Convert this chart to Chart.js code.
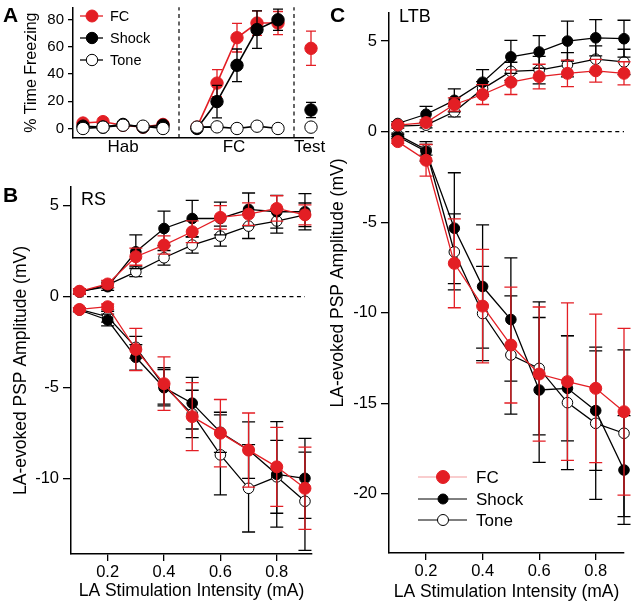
<!DOCTYPE html>
<html>
<head>
<meta charset="utf-8">
<script src="https://cdn.jsdelivr.net/npm/chart.js@4.4.1/dist/chart.umd.min.js"></script>
<style>
  html, body { margin: 0; padding: 0; background: #fff; }
  #wrap { position: relative; width: 632px; height: 604px; overflow: hidden; }
  canvas { position: absolute; }
</style>
</head>
<body>
<div id="wrap">
  <canvas id="chartB" width="320" height="444" style="left:0;top:160px"></canvas>
  <canvas id="chartA" width="330" height="166" style="left:0;top:0"></canvas>
  <canvas id="chartC" width="312" height="604" style="left:320px;top:0"></canvas>
</div>
<script>
// ---- panel A : freezing ----
var habX = [0, 1, 2, 3, 4];
var condX = [5.7, 6.7, 7.7, 8.7, 9.75];
var testX = [11.4];
var phaseDividers = [4.8, 10.55];
var phaseTickX = [2, 7.55, 11.33];
var phaseLabels = ['Hab', 'FC', 'Test'];
var freezeTicks = [0, 20, 40, 60, 80];

var habFC = [4, 5, 2.4, 1, 3];
var habFCErr = [1, 1, 0.8, 0.8, 1];
var habShock = [1.7, 1, 3, 1, 2.4];
var habShockErr = [1, 0.8, 1, 0.8, 1];
var habTone = [0, 1, 2.4, 1.7, 0];
var habToneErr = [0.5, 0.5, 0.5, 0.5, 0.5];

var condFC = [1, 33.4, 66.8, 77.6, 77.6];
var condFCErr = [0.5, 10, 10.5, 9, 8.5];
var condShock = [0, 19.8, 46.5, 72.8, 80];
var condShockErr = [0.5, 12, 12, 13.8, 7.8];
var condTone = [1, 1.2, 0, 1.7, 0];
var condToneErr = [0.5, 0.5, 0.5, 0.5, 0.5];

var testFC = [59];
var testFCErr = [12.6];
var testShock = [13.6];
var testShockErr = [5.6];
var testTone = [1];
var testToneErr = [0.5];

// ---- panels B and C : PSP amplitude ----
var intensity = [0.1, 0.2, 0.3, 0.4, 0.5, 0.6, 0.7, 0.8, 0.9];
var intensityTicks = [0.2, 0.4, 0.6, 0.8];
var rsTicks = [5, 0, -5, -10];
var ltbTicks = [5, 0, -5, -10, -15, -20];

var rsFCUp = [0.3, 0.7, 2.2, 2.84, 3.57, 4.36, 4.54, 4.85, 4.5];
var rsFCUpErr = [0.15, 0.2, 0.47, 0.5, 0.6, 0.65, 0.62, 0.7, 0.55];
var rsShockUp = [0.3, 0.55, 2.47, 3.75, 4.3, 4.3, 4.8, 4.67, 4.67];
var rsShockUpErr = [0.15, 0.2, 0.93, 0.95, 1.0, 0.9, 0.9, 0.9, 1.0];
var rsToneUp = [0.25, 0.65, 1.37, 2.14, 2.84, 3.33, 3.88, 4.16, 4.5];
var rsToneUpErr = [0.1, 0.15, 0.27, 0.4, 0.44, 0.55, 0.68, 0.66, 0.65];

var rsFCDown = [-0.7, -0.55, -2.9, -4.78, -6.59, -7.5, -8.43, -9.35, -10.53];
var rsFCDownErr = [0.1, 0.15, 1.16, 1.47, 1.87, 1.85, 2.04, 2.17, 2.26];
var rsShockDown = [-0.73, -1.28, -3.33, -5.0, -5.85, -7.45, -8.43, -9.76, -9.98];
var rsShockDownErr = [0.1, 0.32, 0.7, 1.0, 1.42, 1.1, 1.55, 2.9, 2.2];
var rsToneDown = [-0.7, -1.1, -2.78, -4.9, -6.44, -8.69, -10.53, -9.9, -11.24];
var rsToneDownErr = [0.1, 0.3, 0.6, 1.0, 1.3, 2.2, 2.4, 2.0, 2.7];

var ltbFCUp = [0.36, 0.5, 1.5, 2.05, 2.73, 3.04, 3.22, 3.36, 3.22];
var ltbFCUpErr = [0.1, 0.15, 0.37, 0.55, 0.68, 0.68, 0.73, 0.63, 0.64];
var ltbShockUp = [0.45, 0.96, 1.73, 2.73, 4.13, 4.4, 5.0, 5.18, 5.13];
var ltbShockUpErr = [0.1, 0.44, 0.63, 0.69, 0.91, 0.9, 1.1, 1.0, 1.02];
var ltbToneUp = [0.3, 0.36, 1.1, 2.36, 3.33, 3.4, 3.69, 4.0, 3.85];
var ltbToneUpErr = [0.1, 0.15, 0.28, 0.4, 0.5, 0.76, 0.67, 0.73, 0.7];

var ltbFCDown = [-0.55, -1.58, -7.27, -9.63, -11.78, -13.38, -13.8, -14.17, -15.46];
var ltbFCDownErr = [0.1, 0.87, 2.45, 3.13, 3.2, 3.7, 4.35, 4.1, 4.6];
var ltbShockDown = [-0.27, -1.09, -5.33, -8.55, -10.37, -14.26, -14.17, -15.4, -18.68];
var ltbShockDownErr = [0.1, 0.54, 3.06, 3.4, 3.4, 4.0, 2.9, 3.3, 3.0];
var ltbToneDown = [-0.18, -1.0, -6.64, -10.04, -12.33, -13.07, -14.96, -16.1, -16.65];
var ltbToneDownErr = [0.1, 0.3, 2.1, 2.6, 3.26, 3.67, 3.7, 4.2, 4.6];

var zeroLineX = [0.1, 0.9];

var RED = '#e31e24';
Chart.defaults.font.family = '"Liberation Sans", Arial, Helvetica, sans-serif';
Chart.defaults.color = '#000';

// error bars drawn just before each dataset so its own markers sit on top
var errorBars = {
    id: 'errorBars',
    beforeDatasetDraw: function (chart, args) {
        var ds = chart.data.datasets[args.index];
        if (!ds.errors) return;
        var meta = args.meta;
        var yScale = chart.scales[meta.yAxisID];
        var ctx = chart.ctx;
        var cap = ds.capHalf || 6;
        ctx.save();
        ctx.strokeStyle = ds.errorColor || ds.borderColor;
        ctx.lineWidth = ds.errorWidth || 1.3;
        for (var i = 0; i < ds.data.length; i++) {
            var v = ds.data[i].y, e = ds.errors[i];
            if (v === null || e === null || e === undefined) continue;
            var x = meta.data[i].x;
            var yt = yScale.getPixelForValue(v + e);
            var yb = yScale.getPixelForValue(v - e);
            ctx.beginPath();
            ctx.moveTo(x, yt); ctx.lineTo(x, yb);
            ctx.moveTo(x - cap, yt); ctx.lineTo(x + cap, yt);
            ctx.moveTo(x - cap, yb); ctx.lineTo(x + cap, yb);
            ctx.stroke();
        }
        ctx.restore();
    }
};

function makeNotes(items) {
    return {
        id: 'notes',
        afterDraw: function (chart) {
            var ctx = chart.ctx;
            ctx.save();
            ctx.fillStyle = '#000';
            ctx.textBaseline = 'alphabetic';
            items.forEach(function (it) {
                ctx.font = (it.bold ? 'bold ' : '') + it.size + 'px ' + Chart.defaults.font.family;
                ctx.fillText(it.text, it.x, it.y);
            });
            ctx.restore();
        }
    };
}

function makeKey(cfg) {
    return {
        id: 'key',
        afterDraw: function (chart) {
            var ctx = chart.ctx;
            ctx.save();
            ctx.font = cfg.size + 'px ' + Chart.defaults.font.family;
            ctx.textBaseline = 'middle';
            cfg.rows.forEach(function (r, i) {
                var y = cfg.ys[i];
                ctx.strokeStyle = r.line;
                ctx.lineWidth = r.lineWidth;
                ctx.beginPath();
                ctx.moveTo(cfg.x0, y); ctx.lineTo(cfg.x1, y);
                ctx.stroke();
                ctx.beginPath();
                ctx.arc(cfg.xm, y, r.radius, 0, Math.PI * 2);
                ctx.fillStyle = r.fill;
                ctx.fill();
                ctx.strokeStyle = r.stroke;
                ctx.lineWidth = 1;
                ctx.stroke();
                ctx.fillStyle = '#000';
                ctx.fillText(r.label, cfg.tx, y + 1);
            });
            ctx.restore();
        }
    };
}

function series(xs, ys, errs, style) {
    return Object.assign({
        data: xs.map(function (x, i) { return {x: x, y: ys[i]}; }),
        errors: errs,
        fill: false,
        tension: 0,
        clip: false,
        showLine: true
    }, style);
}

function styleFor(kind, r, lw, cap) {
    if (kind === 'FC') {
        return {borderColor: RED, backgroundColor: RED, pointBackgroundColor: RED, pointBorderColor: RED,
            pointRadius: r, pointBorderWidth: 1, borderWidth: lw, errorColor: RED, capHalf: cap, pointHoverRadius: r};
    }
    if (kind === 'Shock') {
        return {borderColor: '#000', backgroundColor: '#000', pointBackgroundColor: '#000', pointBorderColor: '#000',
            pointRadius: r - 0.7, pointBorderWidth: 1, borderWidth: lw, errorColor: '#000', capHalf: cap, pointHoverRadius: r};
    }
    return {borderColor: '#000', backgroundColor: '#fff', pointBackgroundColor: '#fff', pointBorderColor: '#000',
        pointRadius: r - 0.7, pointBorderWidth: 1, borderWidth: lw, errorColor: '#000', capHalf: cap, pointHoverRadius: r};
}

function dashed(points) {
    return {data: points, borderColor: '#000', borderWidth: 1.2, borderDash: [4, 3.5], pointRadius: 0,
        fill: false, clip: false, showLine: true};
}

function fixedAxis(size, horizontal) {
    return function (s) {
        if (horizontal) { s.height = size; } else { s.width = size; }
        s.paddingLeft = 0; s.paddingRight = 0; s.paddingTop = 0; s.paddingBottom = 0;
    };
}

function setTicks(values) {
    return function (s) { s.ticks = values.map(function (v) { return {value: v}; }); };
}

var baseOptions = {
    responsive: false,
    animation: false,
    devicePixelRatio: 1,
    events: [],
    plugins: {legend: {display: false}, tooltip: {enabled: false}}
};

// ---- chart A ----
var aYMin = -7, aYMax = 89.2;
var dsA = [];
[['Tone', habTone, habToneErr, condTone, condToneErr, testTone, testToneErr],
 ['Shock', habShock, habShockErr, condShock, condShockErr, testShock, testShockErr],
 ['FC', habFC, habFCErr, condFC, condFCErr, testFC, testFCErr]].forEach(function (g) {
    var st = styleFor(g[0], 6.3, 1.6, 5);
    st.pointRadius = 6.2;
    dsA.push(series(habX, g[1], g[2], st));
    dsA.push(series(condX, g[3], g[4], st));
    dsA.push(series(testX, g[5], g[6], st));
});
phaseDividers.forEach(function (x) {
    dsA.push(dashed([{x: x, y: aYMin}, {x: x, y: aYMax}]));
});

new Chart(document.getElementById('chartA'), {
    type: 'line',
    data: {datasets: dsA},
    options: Object.assign({}, baseOptions, {
        layout: {padding: {left: 0, top: 2, right: 17, bottom: 0}},
        scales: {
            x: {
                type: 'linear', min: -0.5, max: 11.5,
                afterBuildTicks: setTicks(phaseTickX),
                afterFit: fixedAxis(28, true),
                grid: {display: false, drawTicks: false},
                border: {display: true, color: '#000', width: 1.5},
                ticks: {font: {size: 17}, padding: -1, maxRotation: 0, minRotation: 0, autoSkip: false,
                    callback: function (v, i) { return phaseLabels[i]; }}
            },
            y: {
                min: aYMin, max: aYMax,
                afterBuildTicks: setTicks(freezeTicks),
                afterFit: fixedAxis(73, false),
                grid: {display: true, drawOnChartArea: false, drawTicks: true, tickLength: 5, color: '#000', lineWidth: 1.3},
                border: {display: true, color: '#000', width: 1.5},
                ticks: {font: {size: 15}, padding: 4, callback: function (v) { return String(v); }},
                title: {display: true, text: '% Time Freezing', font: {size: 16}, padding: {top: 22, bottom: 0}}
            }
        }
    }),
    plugins: [errorBars,
        makeNotes([{text: 'A', x: 3, y: 22, size: 21, bold: true}]),
        makeKey({x0: 80, x1: 103, xm: 92, tx: 110, size: 14.5, ys: [16, 38, 60], rows: [
            {label: 'FC', line: RED, lineWidth: 1.3, fill: RED, stroke: RED, radius: 6},
            {label: 'Shock', line: '#000', lineWidth: 1.3, fill: '#000', stroke: '#000', radius: 5.7},
            {label: 'Tone', line: '#000', lineWidth: 1.3, fill: '#fff', stroke: '#000', radius: 5.7}
        ]})]
});

// ---- charts B and C ----
function psp(canvasId, groups, opt) {
    var ds = [];
    groups.forEach(function (g) {
        var st = styleFor(g[0], opt.r, 1.3, 6.5);
        ds.push(series(intensity, g[1], g[2], st));
        ds.push(series(intensity, g[3], g[4], st));
    });
    ds.push(dashed(zeroLineX.map(function (x) { return {x: x, y: 0}; })));

    return new Chart(document.getElementById(canvasId), {
        type: 'line',
        data: {datasets: ds},
        options: Object.assign({}, baseOptions, {
            layout: {padding: {left: 0, top: opt.top, right: 8, bottom: 0}},
            scales: {
                x: {
                    type: 'linear', min: opt.xMin, max: opt.xMax,
                    afterBuildTicks: setTicks(intensityTicks),
                    afterFit: fixedAxis(opt.xHeight, true),
                    grid: {display: true, drawOnChartArea: false, drawTicks: true, tickLength: 7, color: '#000', lineWidth: 1.3},
                    border: {display: true, color: '#000', width: 1.5},
                    ticks: {font: {size: 16.5}, padding: 2, maxRotation: 0, minRotation: 0, autoSkip: false,
                        callback: function (v) { return v.toFixed(1); }},
                    title: {display: true, text: 'LA Stimulation Intensity (mA)', font: {size: 17.5},
                        padding: {top: 0, bottom: opt.xTitlePad}}
                },
                y: {
                    min: opt.yMin, max: opt.yMax,
                    afterBuildTicks: setTicks(opt.yTicks),
                    afterFit: fixedAxis(opt.yWidth, false),
                    grid: {display: true, drawOnChartArea: false, drawTicks: true, tickLength: 8, color: '#000', lineWidth: 1.3},
                    border: {display: true, color: '#000', width: 1.5},
                    ticks: {font: {size: 16.5}, padding: 4, callback: function (v) { return String(v); }},
                    title: {display: true, text: 'LA-evoked PSP Amplitude (mV)', font: {size: 17.5},
                        padding: {top: opt.yTitlePad, bottom: 0}}
                }
            }
        }),
        plugins: [errorBars, makeNotes(opt.notes)].concat(opt.key ? [opt.key] : [])
    });
}

psp('chartB', [
    ['FC', rsFCUp, rsFCUpErr, rsFCDown, rsFCDownErr],
    ['Shock', rsShockUp, rsShockUpErr, rsShockDown, rsShockDownErr],
    ['Tone', rsToneUp, rsToneUpErr, rsToneDown, rsToneDownErr]
], {
    r: 6, top: 27, xMin: 0.07, xMax: 0.925, yMin: -14.14, yMax: 6.03, yTicks: rsTicks,
    xHeight: 50, yWidth: 71, xTitlePad: 2, yTitlePad: 11,
    notes: [{text: 'B', x: 3, y: 42, size: 21, bold: true}, {text: 'RS', x: 81, y: 45, size: 18}]
});

psp('chartC', [
    ['FC', ltbFCUp, ltbFCUpErr, ltbFCDown, ltbFCDownErr],
    ['Shock', ltbShockUp, ltbShockUpErr, ltbShockDown, ltbShockDownErr],
    ['Tone', ltbToneUp, ltbToneUpErr, ltbToneDown, ltbToneDownErr]
], {
    r: 6, top: 13, xMin: 0.069, xMax: 0.9, yMin: -23.26, yMax: 6.55, yTicks: ltbTicks,
    xHeight: 51, yWidth: 69, xTitlePad: 1.5, yTitlePad: 8,
    notes: [{text: 'C', x: 10, y: 22, size: 21, bold: true}, {text: 'LTB', x: 79, y: 22, size: 18}],
    key: makeKey({x0: 98, x1: 147, xm: 123, tx: 156, size: 17, ys: [477, 499, 520], rows: [
        {label: 'FC', line: 'rgba(227,30,36,0.45)', lineWidth: 1, fill: RED, stroke: RED, radius: 6.5},
        {label: 'Shock', line: '#000', lineWidth: 1, fill: '#000', stroke: '#000', radius: 5},
        {label: 'Tone', line: '#000', lineWidth: 1, fill: '#fff', stroke: '#000', radius: 5.5}
    ]})
});
</script>
</body>
</html>
